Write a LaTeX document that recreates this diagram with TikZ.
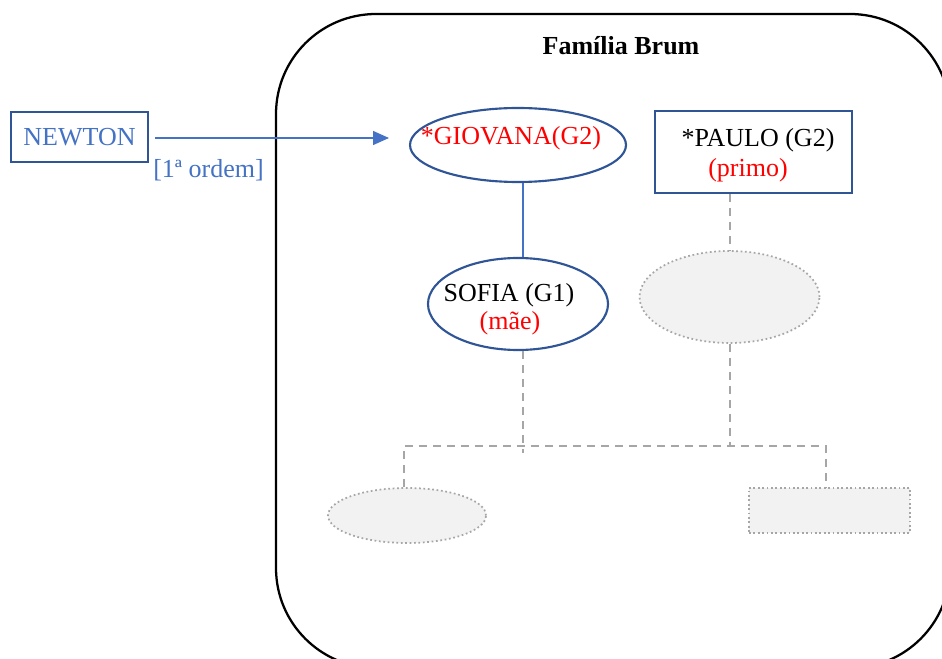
\documentclass[tikz,border=0pt]{standalone}
\usepackage{fontspec}
\setmainfont{Liberation Serif}
\usetikzlibrary{shapes.geometric,arrows.meta}
\definecolor{dkblue}{HTML}{2F5597}
\definecolor{ltblue}{HTML}{4472C4}
\definecolor{txtred}{HTML}{FF0000}
\definecolor{lgray}{HTML}{A6A6A6}
\definecolor{fgray}{HTML}{F2F2F2}
\tikzset{
  every node/.style={font=\fontsize{19.5}{21}\selectfont, inner sep=0pt},
  bluebox/.style={draw=dkblue, line width=1.6pt},
  blueell/.style={ellipse, draw=dkblue, line width=1.6pt},
  ghostell/.style={ellipse, draw=lgray, fill=fgray, line width=1.3pt, dotted},
  ghostbox/.style={rectangle, draw=lgray, fill=fgray, line width=1.3pt, dotted},
  dashlink/.style={draw=lgray, line width=1.1pt, dash pattern=on 6pt off 4.5pt},
  solidlink/.style={draw=ltblue, line width=0.8pt},
}
\begin{document}
\begin{tikzpicture}[x=0.75pt,y=-0.75pt]
\useasboundingbox (0,0) rectangle (942,659);
% family frame
\node[draw=black, line width=1.7pt, rounded corners=75pt, minimum width=505.5pt, minimum height=490.5pt] (familia) at (613,341) {};
\node[font=\fontsize{19.5}{21}\selectfont\bfseries] (title) at (621,46) {Família Brum};
% Newton
\node[bluebox, minimum width=102.75pt, minimum height=37.5pt, text=ltblue] (newton) at (79.5,137) {NEWTON};
% Giovana
\node[blueell, minimum width=162pt, minimum height=55.5pt] (giovana) at (518,145) {};
\node[text=txtred] (giovanatxt) at (511,138) {*GIOVANA(G2)};
% arrow
\coordinate (arrowend) at (389,138);
\draw[ltblue, line width=1pt, -{Triangle[length=12pt,width=10.5pt]}] (newton.east |- arrowend) ++(6,0) coordinate (arrowstart) -- (arrowend);
\node[text=ltblue, anchor=west] (ordem) at (153,170) {[1ª ordem]};
% Paulo
\node[bluebox, minimum width=147.75pt, minimum height=61.5pt] (paulo) at (753.5,152) {};
\node (paulotxt) at (758,140) {*PAULO (G2)};
\node[text=txtred] (primo) at (748,170) {(primo)};
% Sofia
\node[blueell, minimum width=135pt, minimum height=69pt] (sofia) at (518,304) {};
\node (sofiatxt) at (509,295) {SOFIA (G1)};
\node[text=txtred] (mae) at (510,323) {(mãe)};
% ghost shapes
\node[ghostell, minimum width=135pt, minimum height=69pt] (ghostA) at (729.5,297) {};
\node[ghostell, minimum width=118.5pt, minimum height=41.25pt] (ghostB) at (407,515.5) {};
\node[ghostbox, minimum width=120.75pt, minimum height=33.75pt] (ghostC) at (829.5,510.5) {};
% connectors
\draw[solidlink] (giovana.south -| 523,0) -- (sofia.north -| 523,0);
\draw[dashlink] (paulo.south -| 730,0) -- (ghostA.north -| 730,0);
\coordinate (busL) at (404,446);
\coordinate (busR) at (826,446);
\coordinate (sofiadrop) at (523,453);
\draw[dashlink] (sofia.south -| sofiadrop) -- (sofiadrop);
\draw[dashlink] (ghostA.south -| 730,0) -- (730,446);
\draw[dashlink] (ghostB.north -| busL) -- (busL) -- (busR) -- (ghostC.north -| busR);
\end{tikzpicture}
\end{document}
